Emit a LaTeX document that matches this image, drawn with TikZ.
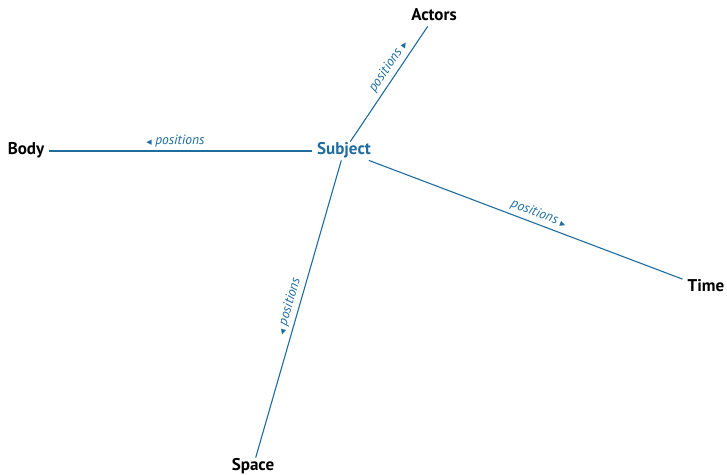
\documentclass[tikz,border=0pt]{standalone}
\usepackage{fontspec}
\setmainfont{PT Sans}
\newfontfamily\symfont{DejaVu Sans}
\definecolor{lineblue}{HTML}{1F6C9E}
\newcommand\myrtri{{\symfont\fontsize{7}{7}\selectfont ▶}}
\newcommand\myltri{{\symfont\fontsize{7}{7}\selectfont ◀}}
\tikzset{
  ent/.style={font=\bfseries\fontsize{17}{20}\selectfont, text=black, inner sep=5pt,
              text height=0.72em, text depth=0.12em, anchor=base},
  subj/.style={ent, text=lineblue},
  link/.style={draw=lineblue, line width=1.1pt},
  lbl/.style={font=\itshape\fontsize{13.5}{15}\selectfont, text=lineblue, sloped, inner sep=3.5pt},
}
\begin{document}
\begin{tikzpicture}[x=1pt,y=-1pt]
\useasboundingbox (0,0) rectangle (727,474);
\node[subj] (subject) at (344,154) {Subject};
\node[ent] (actors) at (434,20) {Actors};
\node[ent] (body) at (26,154) {Body};
\node[ent] (time) at (706,291) {Time};
\node[ent] (space) at (253,470) {Space};
\draw[link] (body) -- node[lbl, above, pos=0.48] {\myltri\ positions} (subject);
\draw[link] (subject) -- node[lbl, above, pos=0.6] {positions \myrtri} (actors);
\draw[link] (subject) -- node[lbl, above, pos=0.53] {positions \myrtri} (time);
\draw[link] (space) -- node[lbl, above, pos=0.5] {\myltri\ positions} (subject);
\end{tikzpicture}
\end{document}
